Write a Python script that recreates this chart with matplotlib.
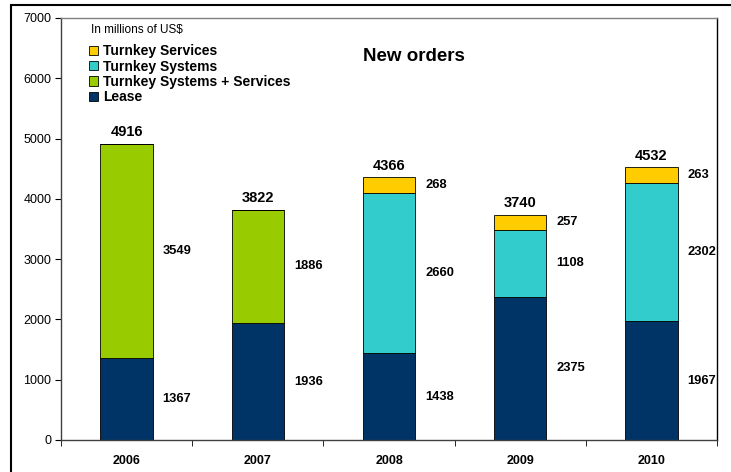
import matplotlib.pyplot as plt
import matplotlib.patches as mpatches
import numpy as np

plt.rcParams['font.family'] = ['Liberation Sans', 'DejaVu Sans']

years = ['2006', '2007', '2008', '2009', '2010']
lease = [1367, 1936, 1438, 2375, 1967]
sys_serv = [3549, 1886, 0, 0, 0]
systems = [0, 0, 2660, 1108, 2302]
services = [0, 0, 268, 257, 263]

c_lease = '#003366'
c_sysserv = '#99CC00'
c_sys = '#33CCCC'
c_serv = '#FFCC00'

fig = plt.figure(figsize=(7.31, 4.72), dpi=100)
# outer frame
fig.patches.append(mpatches.Rectangle((11 / 731, -0.01), 1.0, 1 - 5 / 472 + 0.01,
                                      transform=fig.transFigure, fill=False,
                                      edgecolor='black', linewidth=1.5))
ax = fig.add_axes([61 / 731, 1 - 440 / 472, (717 - 61) / 731, (440 - 18) / 472])

x = np.arange(len(years))
w = 0.4
bottom = np.zeros(len(years))
series = [(lease, c_lease), (sys_serv, c_sysserv), (systems, c_sys), (services, c_serv)]
for vals, col in series:
    vals = np.array(vals)
    ax.bar(x, vals, w, bottom=bottom, color=col, edgecolor='black', linewidth=0.6)
    for i, v in enumerate(vals):
        if v > 0:
            ax.text(x[i] + w / 2 + 0.075, bottom[i] + v / 2, str(v), ha='left', va='center',
                    fontsize=9.3, fontweight='bold')
    bottom += vals

for i, t in enumerate(bottom):
    ax.text(x[i], t + 70, str(int(t)), ha='center', va='bottom', fontsize=10.5,
            fontweight='bold')

ax.set_xlim(-0.5, len(years) - 0.5)
ax.set_ylim(0, 7000)
ax.set_yticks(range(0, 7001, 1000))
ax.tick_params(axis='y', labelsize=9, length=4, direction='out', pad=3)
ax.set_xticks(x)
ax.set_xticklabels(years, fontsize=9, fontweight='bold')
ax.tick_params(axis='x', length=0, pad=10.5)
ax.set_xticks(np.arange(-0.5, len(years)), minor=True)
ax.tick_params(axis='x', which='minor', length=4, direction='out')

ax.spines['top'].set_color('#808080')
ax.spines['left'].set_color('#404040')
ax.spines['bottom'].set_color('#404040')
ax.spines['right'].set_color('black')
for s in ax.spines.values():
    s.set_linewidth(1.0)

ax.text(0.538, 0.908, 'New orders', transform=ax.transAxes, ha='center', va='center',
        fontsize=13.5, fontweight='bold')
ax.text(0.046, 0.971, 'In millions of US$', transform=ax.transAxes, ha='left', va='center',
        fontsize=8.5)

handles = [mpatches.Patch(facecolor=c, edgecolor='black', linewidth=0.6) for c in
           [c_serv, c_sys, c_sysserv, c_lease]]
labels = ['Turnkey Services', 'Turnkey Systems', 'Turnkey Systems + Services', 'Lease']
leg = ax.legend(handles, labels, loc='upper left', bbox_to_anchor=(0.043, 0.938),
                frameon=False, prop={'size': 10, 'weight': 'bold'},
                handlelength=0.65, handleheight=0.65, handletextpad=0.35,
                labelspacing=0.1, borderaxespad=0, borderpad=0)

fig.savefig('out.png', dpi=100)
